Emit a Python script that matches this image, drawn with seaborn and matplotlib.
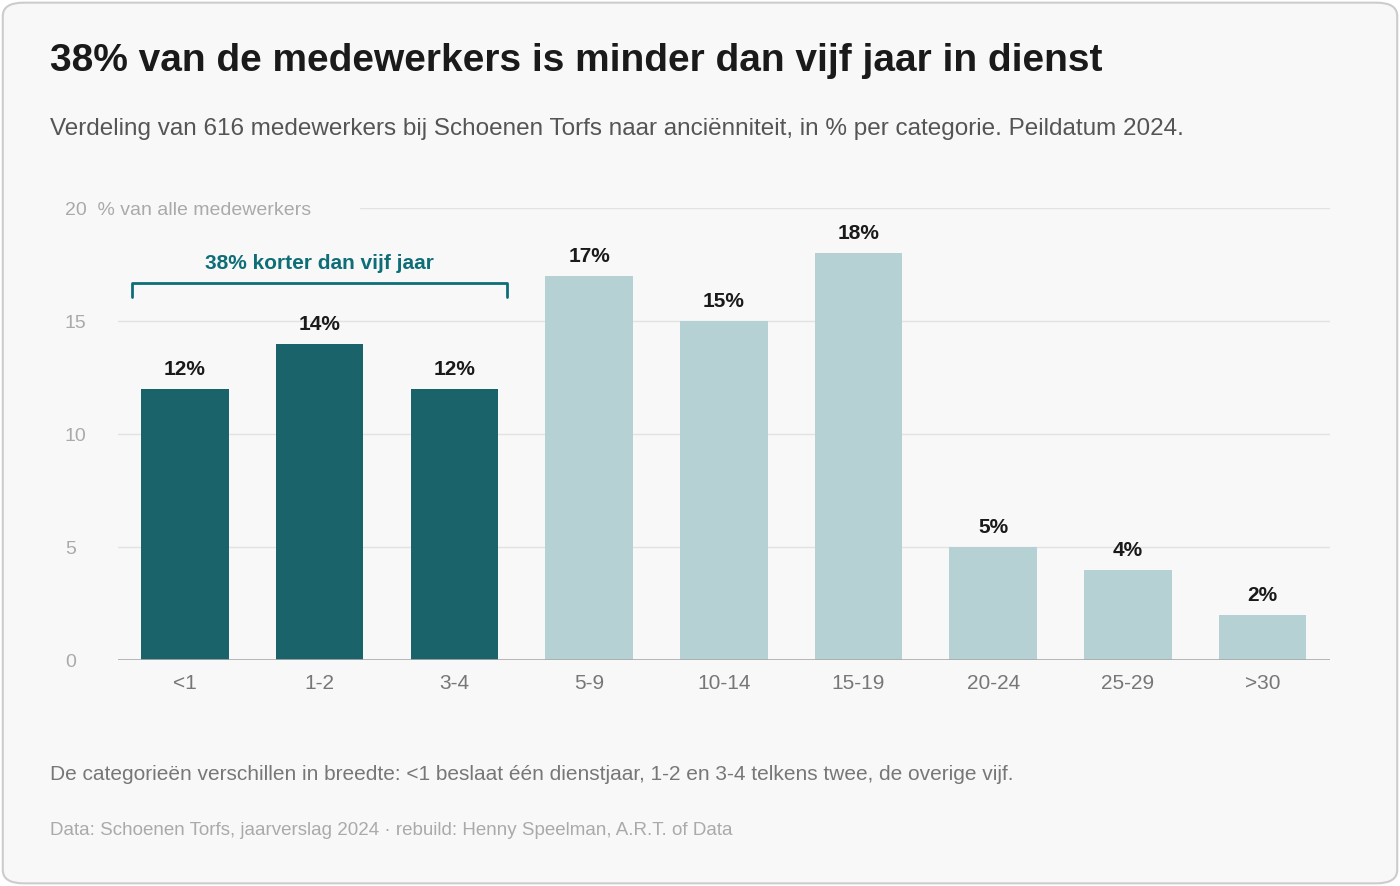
import matplotlib.pyplot as plt
import seaborn as sns
import pandas as pd
from matplotlib.patches import FancyBboxPatch

categories = ["<1", "1-2", "3-4", "5-9", "10-14", "15-19", "20-24", "25-29", ">30"]
values = [12, 14, 12, 17, 15, 18, 5, 4, 2]
short_tenure = [True, True, True, False, False, False, False, False, False]
yticks = [0, 5, 10, 15, 20]

dark = "#0e6e78"
light = "#b0d5d8"
bg = "#f8f8f8"

sns.set_theme(style="white")
plt.rcParams['font.family'] = ['Liberation Sans', 'DejaVu Sans']

df = pd.DataFrame({"cat": categories, "val": values,
                   "grp": ["kort" if s else "lang" for s in short_tenure]})

fig = plt.figure(figsize=(14, 8.86), dpi=100)
fig.patch.set_facecolor("white")
fig.patches.append(FancyBboxPatch((0.002, 0.003), 0.996, 0.994,
                                  boxstyle="round,pad=0,rounding_size=0.015",
                                  transform=fig.transFigure, facecolor=bg,
                                  edgecolor="#cccccc", linewidth=1.5, zorder=-10))

ax = fig.add_axes([0.084, 0.255, 0.866, 0.51])
ax.set_facecolor(bg)
sns.barplot(data=df, x="cat", y="val", hue="grp", palette={"kort": dark, "lang": light},
            dodge=False, width=0.65, legend=False, ax=ax, zorder=3)
for p in ax.patches:
    p.set_linewidth(0)

ax.set_ylim(0, 20)
ax.set_xlim(-0.5, len(categories) - 0.5)
for s in ax.spines.values():
    s.set_visible(False)
ax.axhline(0, color="#aaaaaa", lw=1.2, zorder=4)
for t in yticks[1:]:
    xmin = 0.2 if t == 20 else 0
    ax.axhline(t, xmin=xmin, color="#e2e2e2", lw=1, zorder=1)
ax.set_yticks(yticks)
ax.set_yticklabels([str(t) for t in yticks[:-1]] + ["20  % van alle medewerkers"])
for lab in ax.get_yticklabels():
    lab.set_horizontalalignment("left")
ax.tick_params(axis="y", length=0, pad=38, labelsize=14, labelcolor="#aaaaaa")
ax.tick_params(axis="x", length=0, pad=10, labelsize=15, labelcolor="#777777")
ax.set_xlabel("")
ax.set_ylabel("")

for i, v in enumerate(values):
    ax.text(i, v + 0.45, f"{v}%", ha="center", va="bottom", fontsize=15,
            fontweight="bold", color="#1a1a1a")

# bracket over the short-tenure group
yb = 16.68
ax.plot([-0.39, -0.39, 2.39, 2.39], [yb - 0.6, yb, yb, yb - 0.6], color=dark, lw=2,
        clip_on=False, zorder=5)
ax.text(1, yb + 0.45, "38% korter dan vijf jaar", ha="center", va="bottom",
        fontsize=15, fontweight="bold", color=dark)

fig.text(0.036, 0.92, "38% van de medewerkers is minder dan vijf jaar in dienst",
         fontsize=28, fontweight="bold", color="#1a1a1a", va="baseline")
fig.text(0.036, 0.848, "Verdeling van 616 medewerkers bij Schoenen Torfs naar anciënniteit, in % per categorie. Peildatum 2024.",
         fontsize=17.5, color="#555555", va="baseline")
fig.text(0.036, 0.12, "De categorieën verschillen in breedte: <1 beslaat één dienstjaar, 1-2 en 3-4 telkens twee, de overige vijf.",
         fontsize=15, color="#777777", va="baseline")
fig.text(0.036, 0.057, "Data: Schoenen Torfs, jaarverslag 2024 · rebuild: Henny Speelman, A.R.T. of Data",
         fontsize=13.5, color="#aaaaaa", va="baseline")

fig.savefig("out.png", dpi=100, facecolor="white")
